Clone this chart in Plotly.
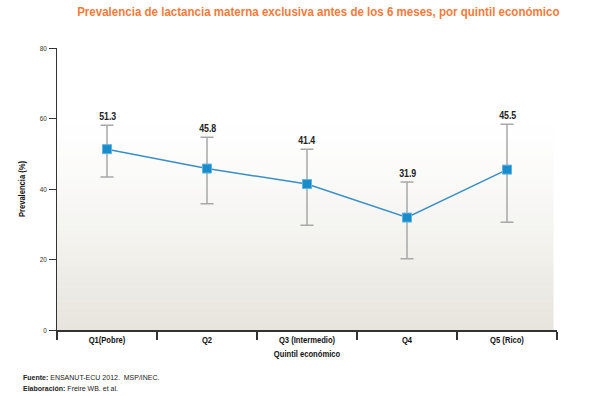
import plotly.graph_objects as go

categories = ["Q1(Pobre)", "Q2", "Q3 (Intermedio)", "Q4", "Q5 (Rico)"]
values = [51.3, 45.8, 41.4, 31.9, 45.5]
ci_low = [43.4, 35.8, 29.7, 20.2, 30.6]
ci_high = [58.1, 54.7, 51.3, 42.0, 58.4]
y_ticks = [0, 20, 40, 60, 80]

err_plus = [h - v for h, v in zip(ci_high, values)]
err_minus = [v - l for l, v in zip(ci_low, values)]

FONT = "Liberation Sans, Arial, sans-serif"

fig = go.Figure()

# gradient background bands (white at top -> warm grey at bottom)
n = 40
top = (255, 255, 255)
bot = (230, 228, 220)
shapes = []
for i in range(n):
    f0 = i / n
    f1 = (i + 1) / n
    t = max(0.0, 1 - (f0 + f1) / 2 / 0.75)
    t = t ** 1.3
    c = tuple(round(top[k] + (bot[k] - top[k]) * t) for k in range(3))
    shapes.append(dict(type="rect", xref="paper", yref="paper",
                       x0=0, x1=0.993, y0=f0, y1=f1 + 0.002,
                       fillcolor="rgb(%d,%d,%d)" % c, line_width=0, layer="below"))

fig.add_trace(go.Scatter(
    x=categories, y=values, mode="lines+markers",
    line=dict(color="#3a8fc6", width=1.5),
    marker=dict(symbol="square", size=9, color="#1a8ccc",
                line=dict(color="#5fb4e0", width=1)),
    error_y=dict(type="data", array=err_plus, arrayminus=err_minus,
                 color="#a8a8a8", thickness=1.5, width=6.5),
    hoverinfo="skip", showlegend=False,
))

for c, v, h in zip(categories, values, ci_high):
    fig.add_annotation(x=c, y=h, text="%.1f" % v, showarrow=False,
                       yshift=9, font=dict(size=11, color="#222222", family=FONT, weight="bold"))

fig.update_layout(
    width=595, height=396,
    margin=dict(l=57, r=38, t=48, b=66),
    paper_bgcolor="white", plot_bgcolor="rgba(0,0,0,0)",
    shapes=shapes,
    title=dict(text="Prevalencia de lactancia materna exclusiva antes de los 6 meses, por quintil económico",
               x=0.535, xanchor="center", y=0.972, yanchor="middle",
               font=dict(size=13, color="#f47b3a", family=FONT, weight="bold")),
    xaxis=dict(type="category", range=[-0.5, 4.5], showline=True, linecolor="#333333",
               linewidth=1.5, ticks="outside", tickson="boundaries", ticklen=8,
               tickcolor="#333333", tickwidth=1.5, showgrid=False, zeroline=False,
               tickfont=dict(size=9.5, color="#111111", family=FONT, weight="bold"),
               title=dict(text="Quintil económico", standoff=6,
                          font=dict(size=9.5, color="#111111", family=FONT, weight="bold"))),
    yaxis=dict(range=[0, 80], tickvals=y_ticks, showline=True, linecolor="#333333",
               linewidth=1.5, ticks="outside", ticklen=7, tickcolor="#333333",
               tickwidth=1, showgrid=False, zeroline=False,
               tickfont=dict(size=8, color="#333322", family=FONT),
               title=dict(text="Prevalencia (%)", standoff=10,
                          font=dict(size=9.5, color="#111111", family=FONT, weight="bold"))),
)

fig.add_annotation(xref="paper", yref="paper", x=-0.072, y=-0.167, xanchor="left", yanchor="middle",
                   text="<b>Fuente:</b> ENSANUT-ECU 2012.  MSP/INEC.", showarrow=False,
                   font=dict(size=7, color="#222222", family=FONT))
fig.add_annotation(xref="paper", yref="paper", x=-0.072, y=-0.206, xanchor="left", yanchor="middle",
                   text="<b>Elaboración:</b> Freire WB. et al.", showarrow=False,
                   font=dict(size=7, color="#222222", family=FONT))

# condense texts (the reference uses a condensed typeface)
post = """
document.body.style.margin='0';
var gd = document.querySelector('.plotly-graph-div');
gd.querySelectorAll('text').forEach(function(t){
  if (t.querySelector('tspan')) return;
  var L = t.getComputedTextLength();
  if (!L) return;
  if (t.classList.contains('gtitle')) {
    var cx = parseFloat(t.getAttribute('x')) || 0;
    var s = 483 / L;
    var prev = t.getAttribute('transform') || '';
    t.setAttribute('transform', 'translate(' + cx + ',0) scale(' + s + ',1) translate(' + (-cx) + ',0) ' + prev);
    return;
  }
  t.setAttribute('textLength', L*0.8);
  t.setAttribute('lengthAdjust', 'spacingAndGlyphs');
});
"""

fig.write_html("out.html", post_script=post, config={"displayModeBar": False, "staticPlot": True})
